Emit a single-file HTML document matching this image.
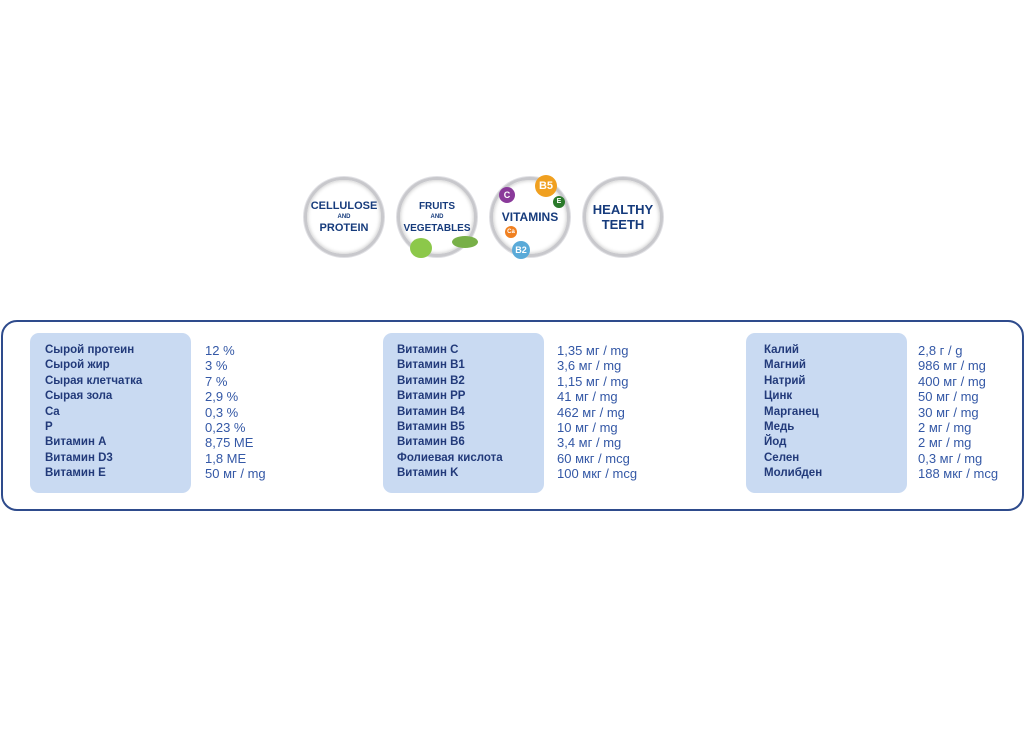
<!DOCTYPE html>
<html><head><meta charset="utf-8"><style>
body{margin:0;width:1024px;height:750px;background:#fff;position:relative;font-family:"Liberation Sans",sans-serif;overflow:hidden}
.box{position:absolute;left:1px;top:320px;width:1019px;height:187px;border:2px solid #2e4b8c;border-radius:16px;background:#fff}
.pan{position:absolute;top:333px;height:160px;width:161px;background:#c9daf2;border-radius:9px}
.t{position:absolute;font-size:12px;line-height:15.4px;white-space:pre}
.l{color:#223a7a;font-weight:bold;font-size:11.5px}
.v{color:#3458a6;font-size:13px}
.c{position:absolute;width:74px;height:74px;border-radius:50%;border:3px solid #c8c8cc;box-shadow:0 0 0 1px #e0e0e4,inset 0 0 4px #bbb;background:#fff;text-align:center;color:#163b7c;font-weight:bold;display:flex;flex-direction:column;justify-content:center;font-size:11px;line-height:13px}
.c small{font-size:6px;line-height:9px}
.b{position:absolute;border-radius:50%;color:#fff;font-size:9px;text-align:center;font-weight:bold}
</style></head><body>
<div class="c" style="left:304px;top:177px">CELLULOSE<small>AND</small>PROTEIN</div>
<div class="c" style="left:397px;top:177px;font-size:10px">FRUITS<small>AND</small>VEGETABLES</div>
<div class="c" style="left:490px;top:177px;font-size:12px">VITAMINS</div>
<div class="c" style="left:583px;top:177px;font-size:13px;line-height:15px">HEALTHY<br>TEETH</div>
<div class="b" style="left:499px;top:187px;width:16px;height:16px;line-height:16px;background:#8a3a9a">C</div>
<div class="b" style="left:535px;top:175px;width:22px;height:22px;line-height:22px;background:#f0a020;font-size:11px">B5</div>
<div class="b" style="left:553px;top:196px;width:12px;height:12px;line-height:12px;background:#2a7a2a;font-size:7px">E</div>
<div class="b" style="left:505px;top:226px;width:12px;height:12px;line-height:12px;background:#f08020;font-size:6px">Ca</div>
<div class="b" style="left:512px;top:241px;width:18px;height:18px;line-height:18px;background:#5aaad8">B2</div>
<div style="position:absolute;left:410px;top:238px;width:22px;height:20px;border-radius:50%;background:#8cc84a"></div>
<div style="position:absolute;left:452px;top:236px;width:26px;height:12px;border-radius:50%;background:#78b048"></div>
<div class="box"></div>
<div class="pan" style="left:30px"></div>
<div class="pan" style="left:383px"></div>
<div class="pan" style="left:746px"></div>
<div class="t l" style="left:45px;top:343px">Сырой протеин
Сырой жир
Сырая клетчатка
Сырая зола
Ca
P
Витамин A
Витамин D3
Витамин E</div>
<div class="t v" style="left:205px;top:343px">12 %
3 %
7 %
2,9 %
0,3 %
0,23 %
8,75 ME
1,8 ME
50 мг / mg</div>
<div class="t l" style="left:397px;top:343px">Витамин C
Витамин B1
Витамин B2
Витамин PP
Витамин B4
Витамин B5
Витамин B6
Фолиевая кислота
Витамин K</div>
<div class="t v" style="left:557px;top:343px">1,35 мг / mg
3,6 мг / mg
1,15 мг / mg
41 мг / mg
462 мг / mg
10 мг / mg
3,4 мг / mg
60 мкг / mcg
100 мкг / mcg</div>
<div class="t l" style="left:764px;top:343px">Калий
Магний
Натрий
Цинк
Марганец
Медь
Йод
Селен
Молибден</div>
<div class="t v" style="left:918px;top:343px">2,8 г / g
986 мг / mg
400 мг / mg
50 мг / mg
30 мг / mg
2 мг / mg
2 мг / mg
0,3 мг / mg
188 мкг / mcg</div>
</body></html>
